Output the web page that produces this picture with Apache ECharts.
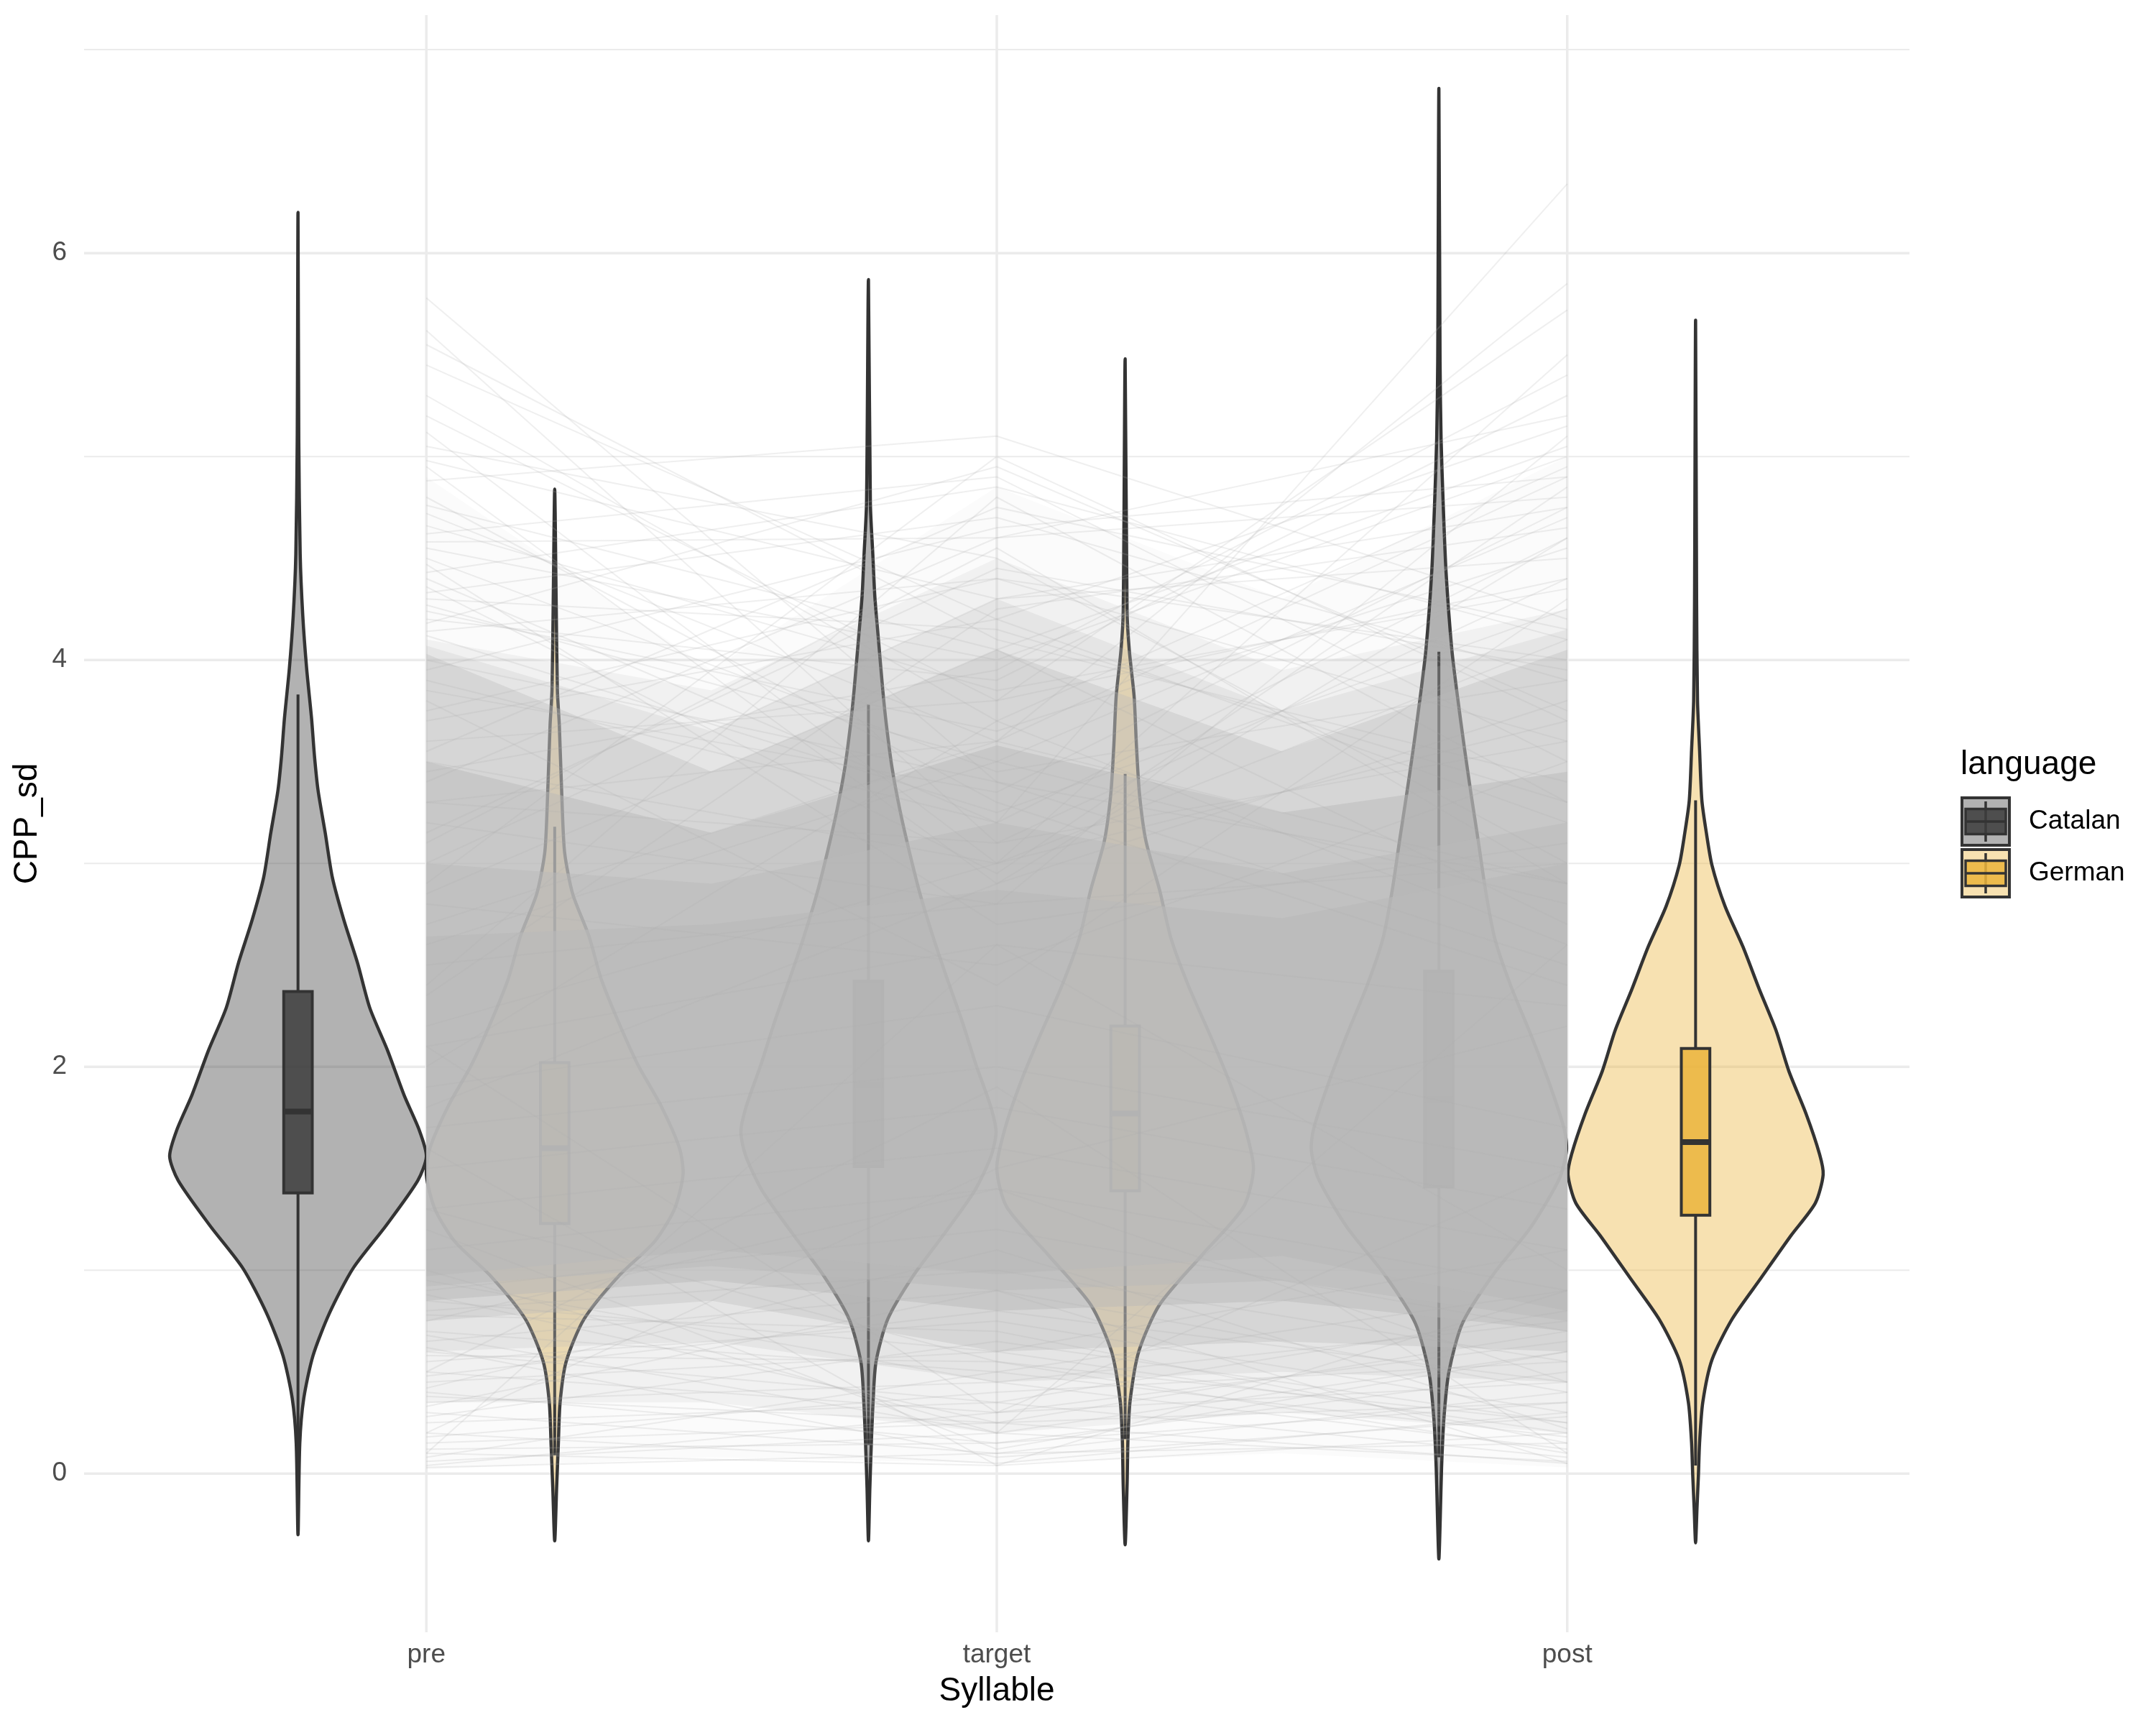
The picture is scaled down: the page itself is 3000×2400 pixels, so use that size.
<!DOCTYPE html>
<html>
<head>
<meta charset="utf-8">
<script src="https://cdn.jsdelivr.net/npm/echarts@6/dist/echarts.min.js"></script>
<style>
html, body { margin: 0; padding: 0; background: #ffffff; }
#chart { width: 3000px; height: 2400px; }
</style>
</head>
<body>
<div id="chart"></div>
<script>
// ---------------- data ----------------
const syllables = ['pre', 'target', 'post'];
const languages = ['Catalan', 'German'];
const yMajorTicks = [0, 2, 4, 6];
const yMinorTicks = [1, 3, 5, 7];

// violin outlines: [CPP_sd value, relative density (1 = widest)]
const violinCatalanPre = [[6.20,0],[5.08,0.006],[4.52,0.017],[4.22,0.037],[3.96,0.067],[3.71,0.106],[3.53,0.128],[3.36,0.156],[3.15,0.212],[2.93,0.268],[2.72,0.358],[2.51,0.464],[2.29,0.559],[2.08,0.698],[1.86,0.827],[1.69,0.944],[1.56,1.0],[1.44,0.933],[1.22,0.687],[1.01,0.430],[0.79,0.246],[0.58,0.117],[0.37,0.045],[0.15,0.014],[-0.30,0]];
const violinCatalanTarget = [[5.87,0],[4.77,0.015],[4.52,0.034],[4.31,0.050],[4.10,0.078],[3.85,0.112],[3.68,0.140],[3.47,0.184],[3.26,0.246],[3.06,0.318],[2.85,0.402],[2.64,0.503],[2.43,0.615],[2.22,0.732],[2.01,0.838],[1.81,0.950],[1.68,0.994],[1.56,0.955],[1.39,0.827],[1.18,0.592],[0.97,0.346],[0.76,0.151],[0.55,0.059],[0.35,0.036],[0.14,0.022],[-0.07,0.011],[-0.33,0]];
const violinCatalanPost = [[6.81,0],[5.47,0.009],[5.09,0.017],[4.76,0.034],[4.43,0.056],[4.05,0.101],[3.82,0.145],[3.58,0.196],[3.34,0.251],[3.11,0.307],[2.87,0.363],[2.63,0.436],[2.40,0.559],[2.16,0.715],[1.92,0.860],[1.69,0.978],[1.59,0.994],[1.45,0.939],[1.21,0.715],[0.98,0.425],[0.74,0.184],[0.50,0.078],[0.27,0.039],[0.03,0.021],[-0.21,0.011],[-0.42,0]];
const violinGermanPre = [[4.84,0],[4.31,0.011],[3.85,0.021],[3.68,0.036],[3.27,0.059],[3.05,0.078],[2.85,0.140],[2.64,0.268],[2.43,0.363],[2.22,0.497],[2.01,0.648],[1.81,0.827],[1.60,0.972],[1.47,1.0],[1.30,0.933],[1.14,0.777],[0.97,0.497],[0.76,0.229],[0.55,0.089],[0.35,0.042],[0.14,0.028],[-0.07,0.015],[-0.33,0]];
const violinGermanTarget = [[5.48,0],[4.24,0.015],[4.05,0.032],[3.82,0.070],[3.58,0.088],[3.34,0.112],[3.11,0.162],[2.87,0.268],[2.63,0.358],[2.40,0.492],[2.16,0.659],[1.92,0.816],[1.69,0.939],[1.50,1.0],[1.31,0.922],[1.07,0.592],[0.83,0.268],[0.60,0.106],[0.36,0.039],[0.17,0.022],[-0.06,0.015],[-0.35,0]];
const violinGermanPost = [[5.67,0],[4.29,0.008],[3.80,0.015],[3.56,0.031],[3.31,0.049],[3.15,0.084],[2.99,0.128],[2.79,0.229],[2.59,0.369],[2.38,0.497],[2.18,0.626],[1.98,0.726],[1.77,0.860],[1.57,0.966],[1.47,0.994],[1.33,0.933],[1.17,0.743],[0.96,0.508],[0.76,0.285],[0.56,0.128],[0.35,0.056],[0.15,0.031],[-0.01,0.022],[-0.17,0.011],[-0.34,0]];

// boxplot stats per syllable: [lower whisker, Q1, median, Q3, upper whisker]
const boxCatalan = [[0.05,1.38,1.78,2.37,3.83],[0.14,1.51,1.91,2.42,3.78],[0.08,1.41,1.84,2.47,4.04]];
const boxGerman  = [[0.09,1.23,1.60,2.02,3.18],[0.17,1.39,1.77,2.20,3.44],[0.04,1.27,1.63,2.09,3.31]];

// envelope of the dense bundle of per-item lines, at pre, pre/target midway, target, target/post midway, post
const bandLow = [
  [0.02, 0.08, 0.05, 0.10, 0.03],
  [0.35, 0.35, 0.20, 0.30, 0.20],
  [0.60, 0.65, 0.45, 0.50, 0.45],
  [0.75, 0.85, 0.60, 0.65, 0.60],
  [0.85, 0.95, 0.80, 0.85, 0.70],
  [0.92, 1.02, 0.90, 0.95, 0.75],
  [0.97, 1.10, 0.98, 1.07, 0.80]
];
const bandHigh = [
  [4.90, 3.95, 4.85, 4.30, 5.00],
  [4.10, 3.85, 4.50, 3.95, 4.25],
  [4.07, 3.65, 4.30, 3.75, 4.15],
  [4.03, 3.45, 4.05, 3.55, 4.05],
  [3.50, 3.15, 3.58, 3.25, 3.45],
  [3.00, 2.90, 3.20, 2.95, 3.20],
  [2.64, 2.70, 2.87, 2.73, 3.00]
];

// individual visible trajectories: [pre, target, post]
const trajectories = [
  [5.78,3.40,2.90],[5.62,3.10,3.60],[5.45,4.20,3.20],[5.30,3.70,2.60],[5.20,3.80,4.40],
  [5.05,4.50,3.00],[4.95,2.90,3.80],[4.88,5.10,4.20],[4.80,3.30,2.40],[4.72,3.60,4.90],
  [4.62,4.90,3.50],[4.55,4.00,5.00],[4.47,2.70,3.10],[4.40,3.20,4.60],[4.33,4.70,3.90],
  [4.27,3.50,2.80],[4.20,3.90,5.30],[4.14,4.40,4.00],
  [5.55,4.10,3.40],[5.12,3.00,4.10],[4.98,4.30,4.75],[4.76,4.05,2.70],[4.66,3.85,4.35],
  [4.58,4.60,5.20],[4.50,3.45,3.90],[4.43,4.85,4.10],[4.36,2.95,4.85],[4.30,4.15,3.30],
  [4.24,3.65,4.55],[4.18,4.95,3.75],[4.12,3.25,4.25],
  [3.90,3.20,6.34],[3.60,3.80,5.72],[3.40,4.60,4.80],[3.20,2.80,5.10],[3.00,4.30,4.50],
  [2.60,3.50,4.70],[2.40,4.80,3.30],[2.20,3.00,5.50],[3.80,2.40,4.30],[4.00,3.40,2.50],
  [2.90,5.00,3.70],[3.10,4.55,2.90],[2.00,3.70,4.95],[1.80,2.90,4.60],[3.70,4.20,5.15],
  [3.30,3.10,4.40],[3.95,4.65,4.90],[3.75,4.40,3.60],[3.55,4.75,4.15],[3.45,3.95,5.40],
  [3.15,4.45,3.95],[2.85,4.05,5.05],[2.70,3.60,5.85],[2.35,4.25,4.65],[3.85,3.35,4.75],
  [3.50,3.00,3.70],[3.30,3.60,2.90],[2.80,2.50,3.50],[2.50,2.80,3.00],[2.10,2.60,2.30],
  [1.90,2.30,1.70],[1.70,2.00,1.50],[1.50,1.80,1.30],[1.30,1.60,1.10],[1.10,1.40,0.90],
  [0.90,1.20,0.70],[0.85,0.60,1.10],[0.80,1.00,0.55],[0.70,0.50,0.90],[0.65,0.90,0.40],
  [0.60,0.35,0.80],[0.55,0.75,0.30],[0.50,0.30,0.65],[0.45,0.60,0.20],[0.40,0.15,0.50],
  [0.35,0.45,0.12],[0.30,0.10,0.40],[0.25,0.35,0.08],[0.20,0.05,0.30],[0.15,0.25,0.05],
  [0.10,0.04,0.20],[0.06,0.20,0.06],[0.03,0.10,0.15],[1.60,0.04,0.90],[2.10,0.30,1.50],
  [0.20,1.50,2.20],[0.10,2.60,1.00],[1.00,0.20,2.60],[0.50,1.90,0.10],[1.30,0.55,0.25],
  [0.75,1.40,0.45],[0.95,0.45,0.75],[0.88,0.25,0.35],[0.78,0.70,0.15],[0.68,0.20,0.60],
  [0.58,0.55,0.10],[0.48,0.80,0.45],[0.38,0.25,0.70],[0.28,0.65,0.25],[0.18,0.40,0.55],
  [0.12,0.15,0.35],[0.08,0.50,0.18],[0.04,0.30,0.45],[0.62,0.08,0.28],[0.33,0.90,0.05],
  [1.20,0.12,0.60],[0.42,1.10,0.22]
];

// ---------------- layout / style constants ----------------
const FONT = '"Liberation Sans", Arial, Helvetica, sans-serif';
const X_MIN = 0.4, X_MAX = 3.6, Y_MIN = -0.78, Y_MAX = 7.17;
const DODGE = 0.225, VIOLIN_HALF = 0.225, BOX_HALF = 0.025;
const OUTLINE = '#333333';
const GRID_COLOR = '#ebebeb';
const LANG_STYLE = {
  Catalan: { violin: 'rgba(62,62,62,0.4)', box: 'rgba(62,62,62,0.86)' },
  German:  { violin: 'rgba(235,180,60,0.4)', box: 'rgba(235,180,60,0.86)' }
};
const BAND_OPACITY = [0.06, 0.15, 0.20, 0.35, 0.45, 0.50, 0.60];
const BAND_RGB = '185,185,185';

const violinProfiles = {
  Catalan: [violinCatalanPre, violinCatalanTarget, violinCatalanPost],
  German:  [violinGermanPre, violinGermanTarget, violinGermanPost]
};
const boxStats = { Catalan: boxCatalan, German: boxGerman };
const langOffset = { Catalan: -DODGE, German: DODGE };

const catPos = syllables.map((s, i) => i + 1);
const bandX = [];
catPos.forEach((p, i) => { bandX.push(p); if (i < catPos.length - 1) bandX.push((p + catPos[i + 1]) / 2); });

function lineEl(a, b, stroke, width) {
  return { type: 'line', shape: { x1: a[0], y1: a[1], x2: b[0], y2: b[1] }, style: { stroke: stroke, lineWidth: width } };
}

const series = [];

// grid lines
series.push({
  type: 'custom', name: 'gridY', z: 1, silent: true,
  data: yMajorTicks.map(v => [0, v, 1]).concat(yMinorTicks.map(v => [0, v, 0])),
  renderItem: (params, api) => {
    const v = api.value(1);
    const major = api.value(2) === 1;
    return lineEl(api.coord([X_MIN, v]), api.coord([X_MAX, v]), GRID_COLOR, major ? 3.5 : 2);
  }
});
series.push({
  type: 'custom', name: 'gridX', z: 1, silent: true,
  data: catPos.map(p => [p, 0]),
  renderItem: (params, api) => {
    const p = api.value(0);
    return lineEl(api.coord([p, Y_MIN]), api.coord([p, Y_MAX]), GRID_COLOR, 3.5);
  }
});

// violins and boxes
languages.forEach(lang => {
  const prof = violinProfiles[lang];
  const off = langOffset[lang];
  series.push({
    type: 'custom', name: lang, z: 2, silent: true,
    data: catPos.map(p => [p, 0]),
    renderItem: (params, api) => {
      const pr = prof[params.dataIndex];
      const cx = api.value(0) + off;
      const pts = [];
      pr.forEach(([v, d]) => pts.push(api.coord([cx + d * VIOLIN_HALF, v])));
      for (let k = pr.length - 2; k >= 1; k--) {
        const v = pr[k][0], d = pr[k][1];
        pts.push(api.coord([cx - d * VIOLIN_HALF, v]));
      }
      return { type: 'polygon', shape: { points: pts, smooth: 0.25 },
               style: { fill: LANG_STYLE[lang].violin, stroke: OUTLINE, lineWidth: 4.5, lineJoin: 'round' } };
    }
  });
  const st = boxStats[lang];
  series.push({
    type: 'custom', name: lang + ' box', z: 3, silent: true,
    data: catPos.map(p => [p, 0]),
    renderItem: (params, api) => {
      const [lw, q1, md, q3, uw] = st[params.dataIndex];
      const cx = api.value(0) + off;
      const tl = api.coord([cx - BOX_HALF, q3]);
      const br = api.coord([cx + BOX_HALF, q1]);
      return { type: 'group', children: [
        lineEl(api.coord([cx, uw]), api.coord([cx, q3]), OUTLINE, 4),
        lineEl(api.coord([cx, q1]), api.coord([cx, lw]), OUTLINE, 4),
        { type: 'rect', shape: { x: tl[0], y: tl[1], width: br[0] - tl[0], height: br[1] - tl[1] },
          style: { fill: LANG_STYLE[lang].box, stroke: OUTLINE, lineWidth: 4 } },
        lineEl(api.coord([cx - BOX_HALF, md]), api.coord([cx + BOX_HALF, md]), OUTLINE, 8)
      ] };
    }
  });
});

// dense bundle of per-item lines (envelope layers)
series.push({
  type: 'custom', name: 'lineBundle', z: 4, silent: true,
  data: bandLow.map((row, k) => [1, row[0], k]),
  renderItem: (params, api) => {
    const k = params.dataIndex;
    const lo = bandLow[k], hi = bandHigh[k];
    const pts = [];
    bandX.forEach((x, j) => pts.push(api.coord([x, lo[j]])));
    for (let j = bandX.length - 1; j >= 0; j--) pts.push(api.coord([bandX[j], hi[j]]));
    return { type: 'polygon', shape: { points: pts },
             style: { fill: 'rgba(' + BAND_RGB + ',' + BAND_OPACITY[k] + ')', stroke: null } };
  }
});

// individual trajectories
series.push({
  type: 'custom', name: 'trajectories', z: 5, silent: true,
  data: trajectories,
  renderItem: (params, api) => {
    const pts = catPos.map((p, j) => api.coord([p, api.value(j)]));
    return { type: 'polyline', shape: { points: pts },
             style: { stroke: 'rgba(175,175,175,0.2)', lineWidth: 2, fill: null } };
  }
});

// legend drawn as graphic elements
const legendX = 2728, legendKeyTop = 1108, keySize = 70, keyGap = 2;
const graphic = [{
  type: 'text', x: legendX, y: 1064,
  style: { text: 'language', fontSize: 46, fontFamily: FONT, fill: '#000000', verticalAlign: 'middle', align: 'left' }
}];
languages.forEach((lang, i) => {
  const top = legendKeyTop + i * (keySize + keyGap);
  const cx = legendX + keySize / 2;
  graphic.push({ type: 'rect', shape: { x: legendX + 2, y: top + 2, width: keySize - 4, height: keySize - 4 },
                 style: { fill: LANG_STYLE[lang].violin, stroke: OUTLINE, lineWidth: 4 } });
  graphic.push({ type: 'line', shape: { x1: cx, y1: top + 0.1 * keySize, x2: cx, y2: top + 0.9 * keySize },
                 style: { stroke: OUTLINE, lineWidth: 3.5 } });
  graphic.push({ type: 'rect', shape: { x: legendX + 0.1 * keySize, y: top + 0.25 * keySize, width: 0.8 * keySize, height: 0.5 * keySize },
                 style: { fill: LANG_STYLE[lang].box, stroke: OUTLINE, lineWidth: 3.5 } });
  graphic.push({ type: 'line', shape: { x1: legendX + 0.1 * keySize, y1: top + 0.5 * keySize, x2: legendX + 0.9 * keySize, y2: top + 0.5 * keySize },
                 style: { stroke: OUTLINE, lineWidth: 3.5 } });
  graphic.push({ type: 'text', x: legendX + 95, y: top + keySize / 2,
                 style: { text: lang, fontSize: 37, fontFamily: FONT, fill: '#000000', verticalAlign: 'middle', align: 'left' } });
});

const option = {
  animation: false,
  backgroundColor: '#ffffff',
  textStyle: { fontFamily: FONT },
  grid: { left: 117, right: 343, top: 21, bottom: 129, containLabel: false, outerBoundsMode: 'none' },
  xAxis: {
    type: 'value', min: X_MIN, max: X_MAX,
    axisLine: { show: false }, axisTick: { show: false }, splitLine: { show: false },
    axisLabel: {
      customValues: catPos,
      formatter: v => (Number.isInteger(v) && v >= 1 && v <= syllables.length) ? syllables[v - 1] : '',
      fontSize: 37, color: '#4d4d4d', margin: 13, fontFamily: FONT
    },
    name: 'Syllable', nameLocation: 'middle', nameGap: 59,
    nameTextStyle: { fontSize: 46, color: '#000000', fontFamily: FONT }
  },
  yAxis: {
    type: 'value', min: Y_MIN, max: Y_MAX,
    axisLine: { show: false }, axisTick: { show: false }, splitLine: { show: false },
    axisLabel: {
      customValues: yMajorTicks,
      formatter: v => yMajorTicks.includes(v) ? String(v) : '',
      fontSize: 37, color: '#4d4d4d', margin: 24, fontFamily: FONT
    },
    name: 'CPP_sd', nameLocation: 'middle', nameGap: 52,
    nameTextStyle: { fontSize: 46, color: '#000000', fontFamily: FONT }
  },
  series: series,
  graphic: graphic
};

const chart = echarts.init(document.getElementById('chart'), null, { renderer: 'canvas' });
chart.setOption(option);
</script>
</body>
</html>
